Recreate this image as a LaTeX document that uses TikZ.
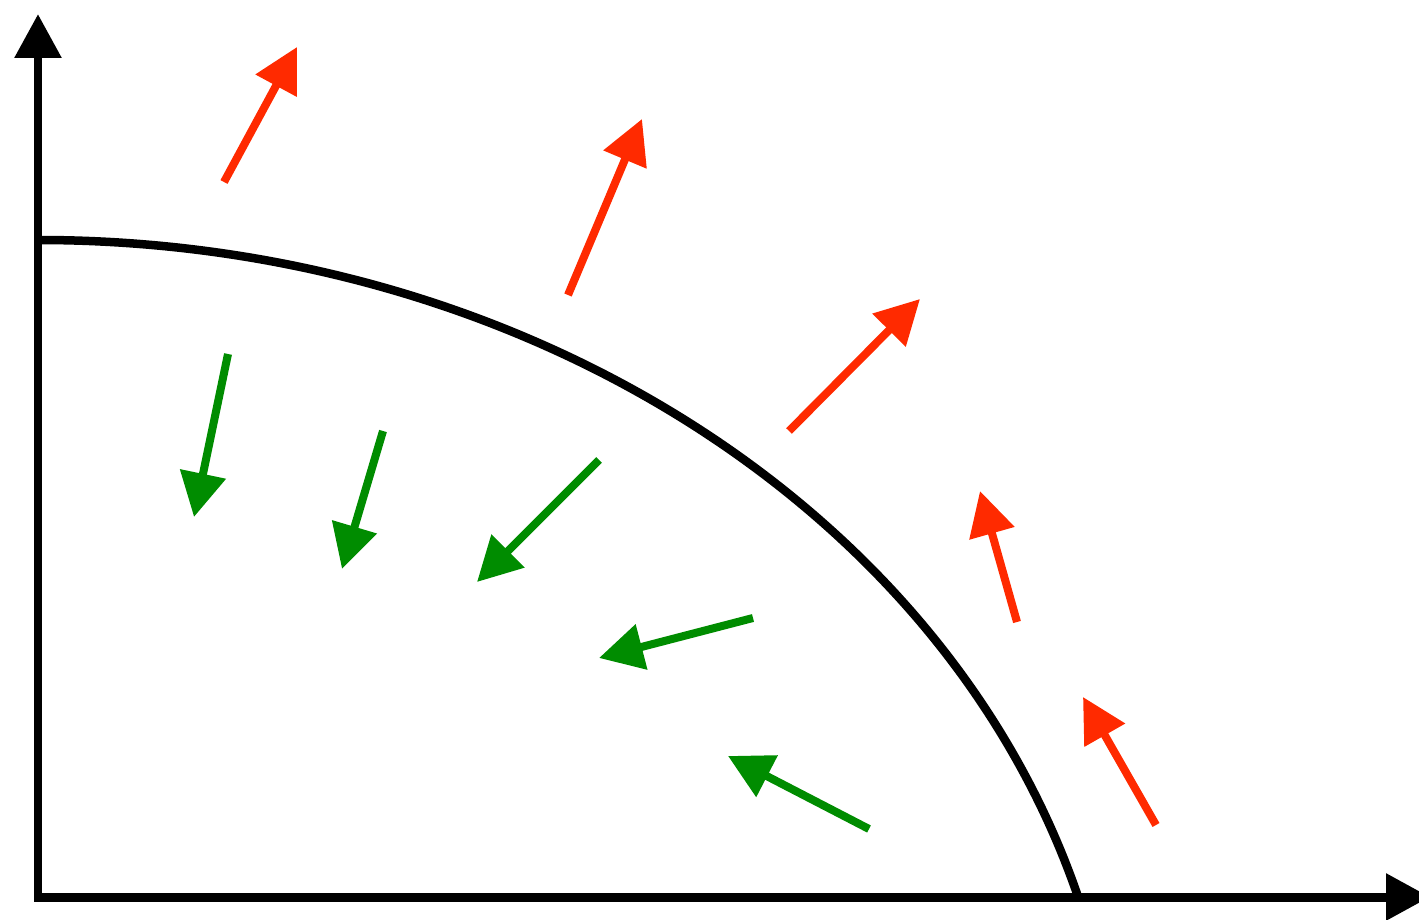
\documentclass[tikz,border=0pt]{standalone}
\usetikzlibrary{arrows.meta}
\definecolor{outred}{RGB}{255,42,0}
\definecolor{ingreen}{RGB}{0,140,0}
\begin{document}
\begin{tikzpicture}[x=0.2cm,y=0.2cm,
  axis/.style={line width=0.18cm,-{Triangle[length=0.88cm,width=0.9cm]}},
  front/.style={line width=0.17cm},
  outarrow/.style={line width=0.16cm,outred,-{Triangle[length=0.88cm,width=0.9cm]}},
  inarrow/.style={line width=0.16cm,ingreen,-{Triangle[length=0.88cm,width=0.9cm]}}]
  \useasboundingbox (-3.8,-2.2) rectangle (138.1,89.7);
  % axes
  \coordinate (o) at (0,0);
  \coordinate (ytip) at (0,88.3);
  \coordinate (xtip) at (139.2,0);
  \draw[axis] (0,-0.4) -- (ytip);
  \draw[axis] (-0.4,0) -- (xtip);
  % boundary
  \coordinate (top) at (0,65.7);
  \draw[front] (top) arc[start angle=90,end angle=16,x radius=21.64cm,y radius=18.14cm];
  % outward arrows
  \coordinate (r1a) at (18.6,71.5);  \coordinate (r1b) at (25.9,85);
  \coordinate (r2a) at (53,60.2);    \coordinate (r2b) at (60.4,77.8);
  \coordinate (r3a) at (75.1,46.6);  \coordinate (r3b) at (88.2,59.8);
  \coordinate (r4a) at (97.9,27.5);  \coordinate (r4b) at (94.2,40.6);
  \coordinate (r5a) at (111.8,7.2);  \coordinate (r5b) at (104.5,20);
  \draw[outarrow] (r1a) -- (r1b);
  \draw[outarrow] (r2a) -- (r2b);
  \draw[outarrow] (r3a) -- (r3b);
  \draw[outarrow] (r4a) -- (r4b);
  \draw[outarrow] (r5a) -- (r5b);
  % inward arrows
  \coordinate (g1a) at (19,54.3);    \coordinate (g1b) at (15.6,38);
  \coordinate (g2a) at (34.5,46.6);  \coordinate (g2b) at (30.4,32.8);
  \coordinate (g3a) at (56.1,43.7);  \coordinate (g3b) at (43.9,31.5);
  \coordinate (g4a) at (71.5,27.9);  \coordinate (g4b) at (56.1,23.9);
  \coordinate (g5a) at (83.1,6.8);   \coordinate (g5b) at (69,14.1);
  \draw[inarrow] (g1a) -- (g1b);
  \draw[inarrow] (g2a) -- (g2b);
  \draw[inarrow] (g3a) -- (g3b);
  \draw[inarrow] (g4a) -- (g4b);
  \draw[inarrow] (g5a) -- (g5b);
\end{tikzpicture}
\end{document}
